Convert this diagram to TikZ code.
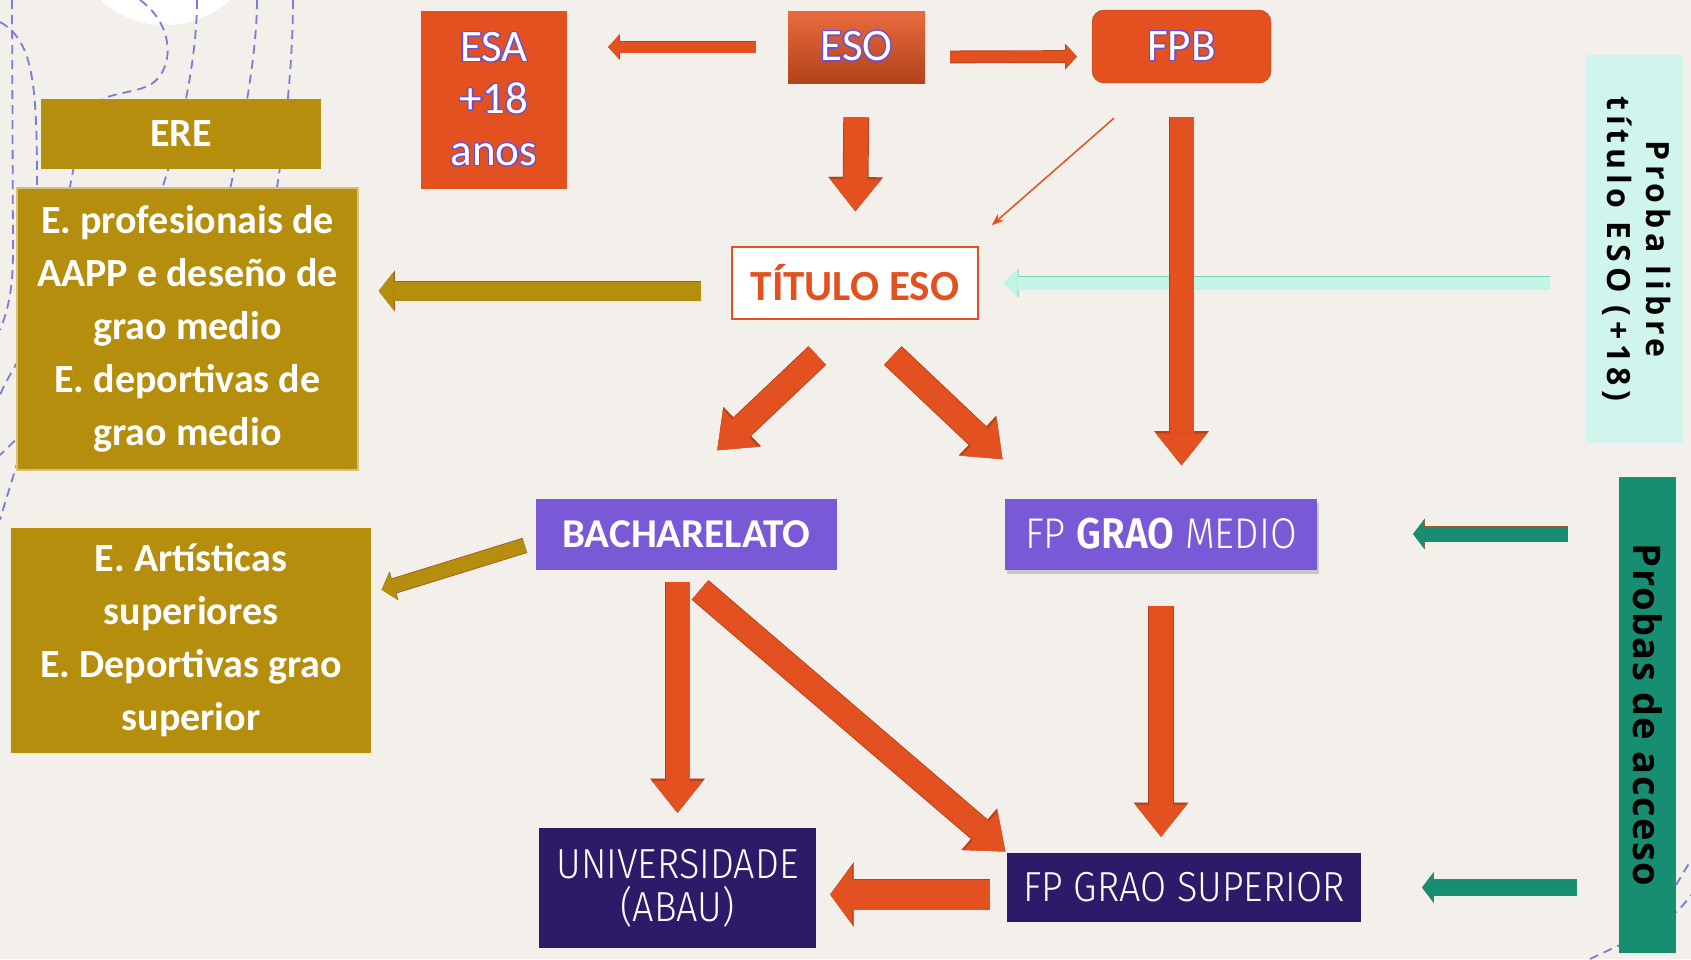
\documentclass[tikz,border=0pt]{standalone}
\usepackage{graphicx}
\usepackage{fontspec}
\usepackage[copies]{contour}
\usetikzlibrary{arrows.meta, shadows}

\setmainfont{Carlito}
\newfontfamily\thinfont{Fira Sans Light}[FakeStretch=0.9]
\newfontfamily\semifont{Fira Sans SemiBold}[FakeStretch=0.9]
\newfontfamily\librefont{Open Sans}[LetterSpace=15]
\newfontfamily\accesofont{Open Sans}[LetterSpace=4]
\contourlength{1.1pt}

\definecolor{fondo}{HTML}{F3F0EB}
\definecolor{naranxa}{HTML}{E2511F}
\definecolor{naranxaesc}{HTML}{B3421B}
\definecolor{naranxaclara}{HTML}{E96B3D}
\definecolor{ouro}{HTML}{B68E0D}
\definecolor{lila}{HTML}{7959D5}
\definecolor{anil}{HTML}{2D1B69}
\definecolor{menta}{HTML}{CFF5EC}
\definecolor{mentafrecha}{HTML}{C2F5E8}
\definecolor{mentaborde}{HTML}{7FD3BE}
\definecolor{verde}{HTML}{178E71}
\definecolor{trazo}{HTML}{7A7DD3}
\definecolor{brillo}{HTML}{6A4ED6}
\definecolor{bordo}{HTML}{A65A2E}

\tikzset{
  caixa/.style={rectangle, inner sep=0pt, align=center, text=white},
  ourocaixa/.style={caixa, fill=ouro, font=\bfseries\fontsize{40}{53}\selectfont},
  laranxacaixa/.style={caixa, fill=naranxa, font=\fontsize{45}{52}\selectfont},
  lilacaixa/.style={caixa, fill=lila, minimum height=71pt},
  anilcaixa/.style={caixa, fill=anil, font=\thinfont\fontsize{42}{43}\selectfont},
  blk/.style n args={5}{draw=#4, line width=#1,
    -{Triangle[length=#2, width=#3, line width=0.1pt]},
    preaction={draw=#5, line width=#1+1.8pt,
      -{Triangle[length=#2, width=#3, line width=0.1pt, scale=1.07]}}},
  frecha/.style={blk={24pt}{32pt}{51pt}{naranxa}{naranxaesc}},
  frechagrosa/.style={blk={30pt}{22pt}{60pt}{naranxa}{naranxaesc}},
  frechafina/.style={blk={11pt}{11pt}{24pt}{naranxa}{naranxaesc}},
  contorno/.style={draw=trazo, dash pattern=on 9pt off 6pt, line width=1.8pt}
}

\begin{document}
\begin{tikzpicture}[x=1pt, y=-1pt]
  \useasboundingbox (0,0) rectangle (1691,959);
  \clip (0,0) rectangle (1691,959);
  \fill[fondo] (0,0) rectangle (1691,959);

  % adorno
  \fill[white] (165,-72) circle (97);
  \draw[contorno] (0,22) .. controls (32,40) and (37,80) .. (37,180) -- (37,300)
    .. controls (37,420) and (20,450) .. (0,520);
  \draw[contorno] (12,0) -- (13,250) .. controls (13,290) and (8,310) .. (0,330);
  \draw[contorno] (60,280) .. controls (40,330) and (10,370) .. (0,395);
  \draw[contorno] (70,370) .. controls (40,420) and (15,440) .. (0,455);
  \draw[contorno] (140,0) .. controls (175,25) and (175,70) .. (150,85)
    .. controls (130,95) and (100,92) .. (90,110) .. controls (80,140) and (72,170) .. (68,200);
  \foreach \a/\b/\c in {197/180/158, 257/240/228, 293/285/275} {
    \draw[contorno] (\a,0) .. controls (\a,60) and (\b,140) .. (\c,200);
  }
  \draw[contorno] (1590,959) .. controls (1640,935) and (1670,925) .. (1691,895);
  \draw[contorno] (1676,885) -- (1691,860);

  % caixas
  \node[ourocaixa, minimum width=280pt, minimum height=70pt] (ere) at (181,134) {ERE};
  \node[ourocaixa, draw=ouro!55!white, line width=1.5pt, minimum width=341pt, minimum height=282pt]
    (prof) at (187.5,329) {E. profesionais de\\AAPP e deseño de\\grao medio\\E. deportivas de\\grao medio};
  \node[ourocaixa, draw=white!85!ouro, line width=1.5pt, minimum width=362pt, minimum height=227pt]
    (art) at (191,640.5) {E. Artísticas\\superiores\\E. Deportivas grao\\superior};

  \node[laranxacaixa, minimum width=146pt, minimum height=178pt] (esa) at (494,100)
    {\contour{brillo}{ESA}\\\contour{brillo}{+18}\\\contour{brillo}{anos}};
  \node[laranxacaixa, top color=naranxaclara, bottom color=naranxaesc, minimum width=137pt, minimum height=72pt]
    (eso) at (856.5,47) {\contour{brillo}{ESO}};
  \node[laranxacaixa, draw=naranxaesc, rounded corners=12pt, minimum width=179pt, minimum height=73pt]
    (fpb) at (1181.5,46.5) {\contour{brillo}{FPB}};

  \node[caixa, fill=white, draw=naranxa, line width=1.5pt, text=naranxa, minimum width=246pt, minimum height=72pt,
    font=\bfseries\fontsize{43}{50}\selectfont] (titulo) at (855,283) {TÍTULO ESO};

  \node[lilacaixa, minimum width=301pt, font=\bfseries\fontsize{41}{45}\selectfont] (bach) at (686.5,534) {BACHARELATO};
  \node[lilacaixa, minimum width=312pt, drop shadow={opacity=0.35, shadow xshift=2pt, shadow yshift=-4pt},
    font=\thinfont\fontsize{43}{45}\selectfont] (fpgm) at (1161,534) {FP {\semifont GRAO} MEDIO};

  \node[anilcaixa, minimum width=277pt, minimum height=120pt] (univ) at (677.5,888) {UNIVERSIDADE\\(ABAU)};
  \node[anilcaixa, minimum width=354pt, minimum height=69pt] (fpgs) at (1184,887.5) {FP GRAO SUPERIOR};

  \node[caixa, fill=menta, text=black, minimum width=97pt, minimum height=388pt,
    font=\librefont\bfseries\fontsize{32}{39}\selectfont] (libre) at (1634.5,249)
    {\rotatebox{-90}{\begin{tabular}{@{}c@{}}Proba libre\\título ESO (+18)\end{tabular}}};
  \node[caixa, fill=verde, text=black, minimum width=57pt, minimum height=476pt,
    font=\accesofont\bfseries\fontsize{38}{44}\selectfont] (acceso) at (1647.5,715)
    {\rotatebox{-90}{Probas de acceso}};

  % frechas desde ESO
  \draw[frechafina, shorten <=32pt, shorten >=41pt] (eso.west) -- (eso.west -| esa.east);
  \draw[frechafina, shorten <=25pt, shorten >=15pt] ([yshift=-10pt]eso.east) -- ([yshift=-10pt]fpb.west);
  \draw[frecha, shorten <=34pt, shorten >=35pt] (eso.south) -- (titulo.north);

  % FPB e proba libre
  \draw[naranxa, line width=1.5pt, shorten <=53pt, shorten >=32pt, -{Stealth[length=12pt, width=9pt]}]
    ([xshift=-27.6pt]fpb.south) -- ([xshift=-11pt]titulo.north east);
  \draw[blk={13pt}{14pt}{27pt}{mentafrecha}{mentaborde}, shorten <=36pt, shorten >=25pt]
    (titulo.east -| libre.west) -- (titulo.east);
  \draw[frecha, shorten <=34pt, shorten >=33pt] (fpb.south) -- (fpb.south |- fpgm.north);

  % desde TÍTULO ESO
  \draw[blk={19pt}{15pt}{38pt}{ouro}{bordo}, shorten <=30pt, shorten >=20pt]
    ([yshift=-8pt]titulo.west) -- ([yshift=38pt]prof.east);
  \draw[frecha, shorten <=52pt, shorten >=70pt] (titulo.south) -- ([xshift=-20pt]bach.north);
  \draw[frecha, shorten <=52pt, shorten >=57pt] (titulo.south) -- ([xshift=39pt]fpgm.north west);

  % desde BACHARELATO
  \draw[blk={14pt}{12pt}{28pt}{ouro}{bordo}, shorten <=11.5pt, shorten >=9.4pt]
    ([yshift=-8pt]bach.west) -- ([yshift=48pt]art.east);
  \draw[frecha, shorten <=12pt, shorten >=15pt] (univ.north |- bach.south) -- (univ.north);
  \draw[frecha, shorten <=31pt, shorten >=2pt] ([xshift=-10pt]bach.south) -- (fpgs.north west);

  % FP
  \draw[frecha, shorten <=36pt, shorten >=16pt] (fpgm.south) -- (fpgm.south |- fpgs.north);
  \draw[frechagrosa, shorten <=17pt, shorten >=14pt] ([yshift=-7pt]fpgs.west) -- ([yshift=-6.5pt]univ.east);

  % probas de acceso
  \draw[blk={15pt}{11pt}{29pt}{verde}{bordo}, shorten <=51pt, shorten >=96pt] (fpgm.east -| acceso.west) -- (fpgm.east);
  \draw[blk={15pt}{11pt}{29pt}{verde}{bordo}, shorten <=42pt, shorten >=61pt] (fpgs.east -| acceso.west) -- (fpgs.east);
\end{tikzpicture}
\end{document}
